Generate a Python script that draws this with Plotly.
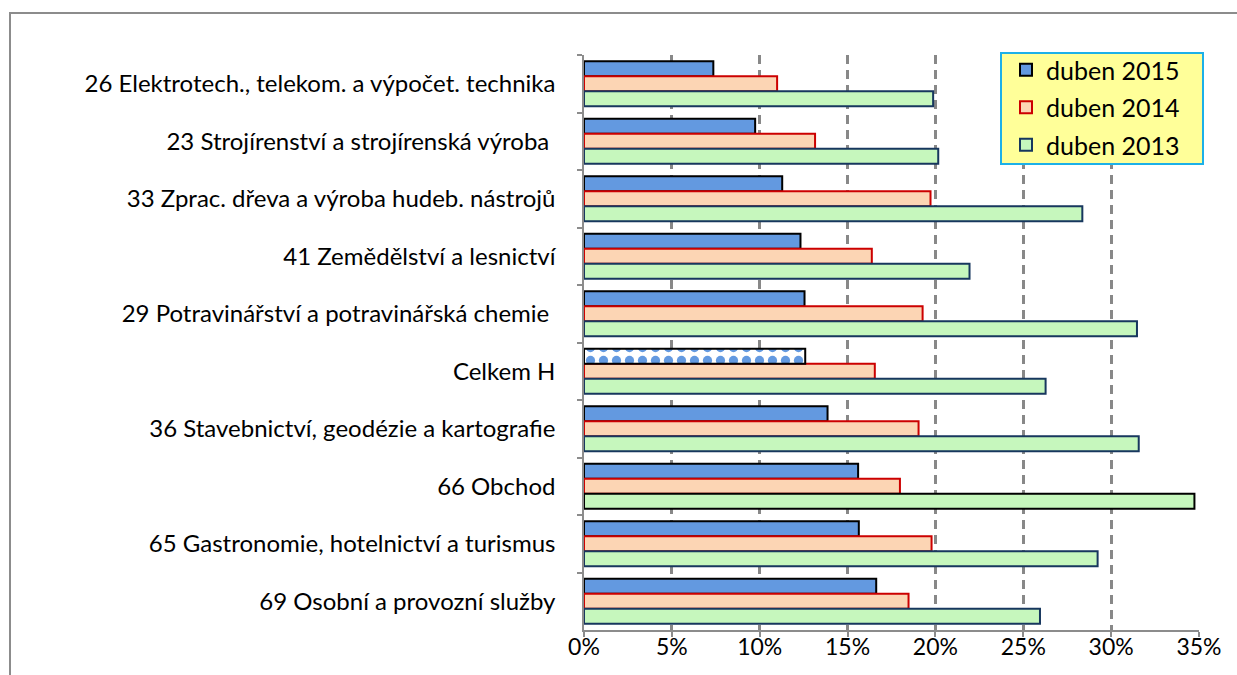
import plotly.graph_objects as go

categories = [
    "26 Elektrotech., telekom. a výpočet. technika",
    "23 Strojírenství a strojírenská výroba\u00a0",
    "33 Zprac. dřeva a výroba hudeb. nástrojů",
    "41 Zemědělství a lesnictví",
    "29 Potravinářství a potravinářská chemie\u00a0",
    "Celkem H",
    "36 Stavebnictví, geodézie a kartografie",
    "66 Obchod",
    "65 Gastronomie, hotelnictví a turismus",
    "69 Osobní a provozní služby",
]
series_names = ["duben 2015", "duben 2014", "duben 2013"]
v2015 = [7.36, 9.74, 11.28, 12.32, 12.55, 12.59, 13.86, 15.60, 15.64, 16.63]
v2014 = [10.99, 13.15, 19.72, 16.38, 19.27, 16.55, 19.04, 17.98, 19.78, 18.47]
v2013 = [19.87, 20.16, 28.36, 21.94, 31.47, 26.27, 31.57, 34.74, 29.23, 25.95]
x_ticks = [0, 5, 10, 15, 20, 25, 30, 35]
x_tick_labels = ["0%", "5%", "10%", "15%", "20%", "25%", "30%", "35%"]
total_category = "Celkem H"

FONT = "Lato"
W, H = 1237, 675
L, R, T, B = 584, 1199, 55, 630

blue, blue_line = "#6399E0", "#000000"
peach, peach_line = "#FCD5B4", "#CC0000"
green, green_line = "#C6F7BD", "#17375E"

v2015_plain = [(None if c == total_category else v) for c, v in zip(categories, v2015)]
v2015_total = [(v if c == total_category else None) for c, v in zip(categories, v2015)]
l13 = [("#000000" if c == "66 Obchod" else green_line) for c in categories]

fig = go.Figure()
fig.add_trace(go.Bar(
    y=categories, x=v2015_plain, name=series_names[0], orientation="h",
    offsetgroup="a", legendgroup="a",
    marker=dict(color=blue, line=dict(color=blue_line, width=2)),
))
fig.add_trace(go.Bar(
    y=categories, x=v2014, name=series_names[1], orientation="h",
    offsetgroup="b", legendgroup="b",
    marker=dict(color=peach, line=dict(color=peach_line, width=2)),
))
fig.add_trace(go.Bar(
    y=categories, x=v2013, name=series_names[2], orientation="h",
    offsetgroup="c", legendgroup="c",
    marker=dict(color=green, line=dict(color=l13, width=2)),
))
fig.add_trace(go.Bar(
    y=categories, x=v2015_total, name=series_names[0], orientation="h",
    offsetgroup="a", legendgroup="a", showlegend=False,
    marker=dict(color="white", line=dict(color=blue_line, width=2),
                pattern=dict(shape=".", fillmode="overlay", fgcolor=blue,
                             fgopacity=1, size=13, solidity=0.4)),
))

def px_x(p):
    return (p - L) / (R - L)

def px_y(p):
    return (B - p) / (B - T)

fig.update_layout(
    width=W, height=H,
    margin=dict(l=L, r=W - R, t=T, b=H - B, pad=0),
    paper_bgcolor="white", plot_bgcolor="white",
    barmode="group", bargap=0.22, bargroupgap=0,
    font=dict(family=FONT, size=24, color="#000000"),
    showlegend=True,
    legend=dict(
        x=px_x(1006), y=px_y(47), xanchor="left", yanchor="top",
        bgcolor="rgba(0,0,0,0)", borderwidth=0,
        font=dict(family=FONT, size=25, color="#000000"),
        traceorder="grouped", tracegroupgap=2,
    ),
    xaxis=dict(
        range=[0, 35], tickvals=x_ticks, ticktext=x_tick_labels,
        showgrid=True, gridcolor="#888888", gridwidth=2.5, griddash="9px,6px",
        zeroline=False, showline=True, linecolor="#8C8C8C", linewidth=1.5,
        ticks="outside", ticklen=5, tickcolor="#8C8C8C", tickwidth=1.5,
        tickfont=dict(family=FONT, size=23), ticklabelstandoff=-9,
    ),
    yaxis=dict(
        autorange="reversed", showgrid=False, zeroline=False,
        showline=True, linecolor="#8C8C8C", linewidth=1.5,
        ticks="outside", tickson="boundaries", ticklen=5, tickcolor="#8C8C8C",
        tickwidth=1.5, ticklabelstandoff=22,
        tickfont=dict(family=FONT, size=24),
    ),
    shapes=[
        dict(type="rect", xref="paper", yref="paper",
             x0=px_x(10), x1=px_x(1260), y0=px_y(700), y1=px_y(13),
             line=dict(color="#8C8C8C", width=2), fillcolor="rgba(0,0,0,0)", layer="below"),
        dict(type="rect", xref="paper", yref="paper",
             x0=px_x(1001), x1=px_x(1203), y0=px_y(164), y1=px_y(53),
             line=dict(color="#1CB0E8", width=2), fillcolor="#FFFF99", layer="above"),
    ],
)

fig.write_html("out.html", config={"displayModeBar": False},
               post_script="document.body.style.margin='0';")
